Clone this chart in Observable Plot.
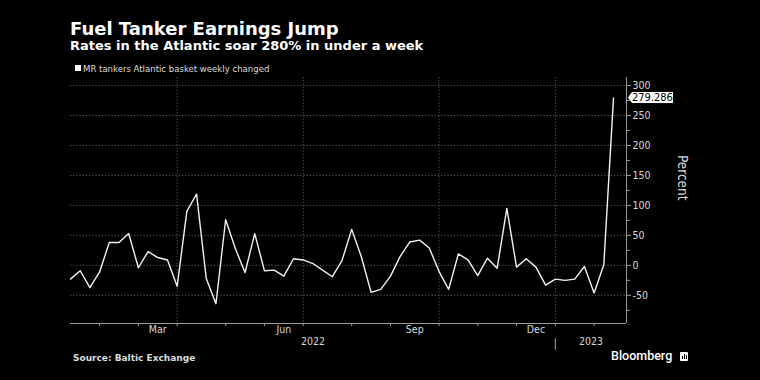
<!DOCTYPE html>
<html><head><meta charset="utf-8">
<script src="https://cdn.jsdelivr.net/npm/d3@7"></script>
<script src="https://cdn.jsdelivr.net/npm/@observablehq/plot@0.6"></script>
<style>
html,body{margin:0;padding:0;background:#000;width:760px;height:380px;overflow:hidden;}
#root{position:relative;width:760px;height:380px;background:#000;}
.t{position:absolute;white-space:nowrap;}
#title{left:70px;top:17px;font:bold 18px/24px "DejaVu Sans",sans-serif;color:#fff;}
#sub{left:70px;top:38px;font:bold 13px/16px "DejaVu Sans",sans-serif;color:#fff;}
#sw{position:absolute;left:75px;top:65px;width:6px;height:6px;background:#fff;}
#legend{left:83px;top:62.5px;font:9.5px/12px "DejaVu Sans Condensed","DejaVu Sans",sans-serif;font-stretch:condensed;color:#ddd;}
#chart{position:absolute;left:0;top:76px;}
#source{left:73px;top:352px;font:bold 9px/12px "DejaVu Sans",sans-serif;color:#ddd;}
#bb{left:611px;top:349px;font:500 12.5px/14px Roboto,sans-serif;color:#fff;}
#bbi{position:absolute;left:680px;top:352px;width:8px;height:9px;background:#fff;border-radius:1px;}
#bbi i{position:absolute;bottom:2px;width:1px;background:#000;}
</style></head>
<body><div id="root">
<div class="t" id="title">Fuel Tanker Earnings Jump</div>
<div class="t" id="sub">Rates in the Atlantic soar 280% in under a week</div>
<div id="sw"></div>
<div class="t" id="legend">MR tankers Atlantic basket weekly changed</div>
<div id="chart"></div>
<div class="t" id="source">Source: Baltic Exchange</div>
<div class="t" id="bb">Bloomberg</div>
<div id="bbi"><i style="left:2px;height:3px"></i><i style="left:4px;height:5px"></i><i style="left:6px;height:4px"></i></div>
</div>
<script>
// weekly observation dates
const weeks = [
 "2022-01-14","2022-01-21","2022-01-28","2022-02-04","2022-02-11","2022-02-18","2022-02-25",
 "2022-03-04","2022-03-11","2022-03-18","2022-03-25","2022-04-01","2022-04-08","2022-04-15",
 "2022-04-22","2022-04-29","2022-05-06","2022-05-13","2022-05-20","2022-05-27","2022-06-03",
 "2022-06-10","2022-06-17","2022-06-24","2022-07-01","2022-07-08","2022-07-15","2022-07-22",
 "2022-07-29","2022-08-05","2022-08-12","2022-08-19","2022-08-26","2022-09-02","2022-09-09",
 "2022-09-16","2022-09-23","2022-09-30","2022-10-07","2022-10-14","2022-10-21","2022-10-28",
 "2022-11-04","2022-11-11","2022-11-18","2022-11-25","2022-12-02","2022-12-09","2022-12-16",
 "2022-12-23","2023-01-06","2023-01-13","2023-01-20","2023-01-27","2023-02-03","2023-02-10",
 "2023-02-17"
];
// MR tankers Atlantic basket weekly change, percent
const changes = [
 -23, -9, -37, -11, 38, 38, 53, -4, 23, 13, 9, -35, 90, 119, -22, -64, 76, 28, -12, 53,
 -9, -8, -18, 11, 9, 3, -8, -19, 8, 60, 14, -45, -40, -18, 15, 39, 42, 29, -10, -40,
 19, 9, -17, 12, -5, 95, -3, 11, -3, -33, -23, -25, -23, -2, -46, 1, 279.286
];
const seriesName = "MR tankers Atlantic basket weekly changed";
const yTicks = [-50, 0, 50, 100, 150, 200, 250, 300];
const yMinorTicks = [-75, -25, 25, 75, 125, 175, 225, 275];
const xMonthLabels = ["Mar", "Jun", "Sep", "Dec"];
const yAxisTitle = "Percent";
const yDomain = [-97, 313.3];

const parse = d3.utcParse("%Y-%m-%d");
const data = weeks.map((w, i) => ({i, date: parse(w), value: changes[i]}));
const xDomain = [0, data.length + 0.34];
const monthKey = d => d.date.getUTCFullYear() * 12 + d.date.getUTCMonth();
const monthStarts = data.filter((d, i) => i > 0 && monthKey(d) !== monthKey(data[i - 1]));
const monthStartIdx = monthStarts.map(d => d.i);
const quarterIdx = monthStarts.filter(d => d.date.getUTCMonth() % 3 === 0).map(d => d.i);
const fmtMonth = d3.utcFormat("%b");
const monthLabels = monthStarts
  .map((d, k) => ({label: fmtMonth(d.date), x: k + 1 < monthStarts.length ? (d.i + monthStarts[k + 1].i) / 2 : null}))
  .filter(d => xMonthLabels.includes(d.label) && d.x != null);
const yearStarts = data.filter((d, i) => i > 0 && d.date.getUTCFullYear() !== data[i - 1].date.getUTCFullYear()).map(d => d.i);
const yearBounds = [xDomain[0], ...yearStarts, xDomain[1]];
const yearLabels = yearBounds.slice(0, -1).map((b, k) => ({
  x: (b + yearBounds[k + 1]) / 2,
  label: String(data[Math.min(Math.ceil(b), data.length - 1)].date.getUTCFullYear())
}));

const grid = {stroke: "#5c5c5c", strokeOpacity: 1, strokeDasharray: "1.2,2"};
const chart = Plot.plot({
  width: 760, height: 290,
  marginTop: 1, marginBottom: 43, marginLeft: 70, marginRight: 134,
  style: {background: "transparent", color: "#d0d0d0", fontFamily: '"DejaVu Sans Condensed","DejaVu Sans",sans-serif', fontSize: "10.5px", fontStretch: "condensed"},
  x: {domain: xDomain, axis: null, label: null},
  y: {domain: yDomain, axis: null, label: null},
  marks: [
    Plot.gridY(yTicks, grid),
    Plot.gridX(quarterIdx, grid),
    Plot.ruleY([yDomain[0]], {stroke: "#9a9a9a"}),
    Plot.ruleX([xDomain[1]], {stroke: "#9a9a9a"}),
    Plot.axisX(monthStartIdx, {tickSize: 3, tickFormat: () => "", stroke: "#9a9a9a", label: null}),
    Plot.text(monthLabels, {x: "x", text: "label", frameAnchor: "bottom", dy: 9, fill: "#d8d8d8"}),
    Plot.text(yearLabels, {x: "x", text: "label", frameAnchor: "bottom", dy: 21.5, fill: "#d8d8d8"}),
    Plot.ruleX(yearStarts, {stroke: "#9a9a9a", insetTop: 261, insetBottom: -27}),
    Plot.axisY(yTicks, {anchor: "right", tickSize: 4, tickPadding: 2, tickFormat: d => String(d), stroke: "#9a9a9a", fill: "#d8d8d8", label: null}),
    Plot.axisY(yMinorTicks, {anchor: "right", tickSize: 3, tickFormat: () => "", stroke: "#9a9a9a", label: null}),
    Plot.line(data, {x: "i", y: "value", stroke: "#f2f2f2", strokeWidth: 1.4}),
    Plot.text([yAxisTitle], {frameAnchor: "right", dx: 56, rotate: 90, fontSize: 13.5, fill: "#d8d8d8"})
  ]
});
document.getElementById("chart").appendChild(chart);

// value flag for the last observation on the right axis
const last = data[data.length - 1];
const ys = chart.scale("y"), xs = chart.scale("x");
const yy = ys.apply(last.value), x0 = xs.apply(xDomain[1]);
const svg = d3.select(chart);
svg.append("path")
  .attr("d", `M${x0 + 2},${yy} L${x0 + 6},${yy - 5.5} L${x0 + 47},${yy - 5.5} L${x0 + 47},${yy + 5.5} L${x0 + 6},${yy + 5.5} Z`)
  .attr("fill", "#fff");
svg.append("text")
  .attr("x", x0 + 6).attr("y", yy).attr("dy", "0.36em")
  .attr("text-anchor", "start")
  .attr("fill", "#000").attr("font-size", "11px")
  .text(String(last.value));
</script>
</body></html>
